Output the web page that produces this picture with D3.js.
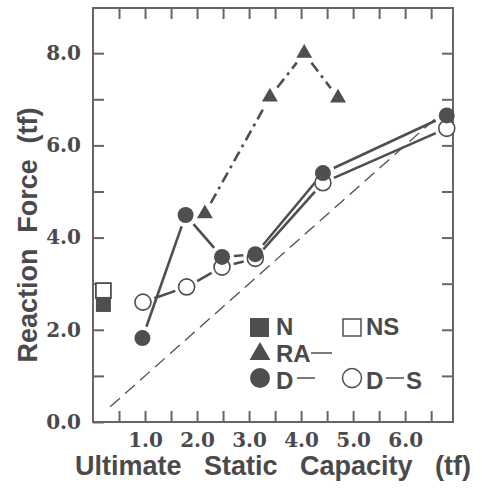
<!DOCTYPE html>
<html lang="en">
<head>
  <meta charset="UTF-8">
  <title>Reaction Force vs Ultimate Static Capacity</title>
  <script src="https://d3js.org/d3.v7.min.js"></script>
  <style>
    body { margin: 0; background: #fff; }
    svg { display: block; }
    .num { font-family: "DejaVu Serif", serif; font-weight: bold; font-size: 20px; fill: #4a4a4a; }
    .ttl { font-family: "Liberation Sans", Arial, sans-serif; font-weight: bold; fill: #4a4a4a; }
  </style>
</head>
<body>
  <div id="chart"></div>

  <script>
    // data
    const dX  = [0.95, 1.78, 2.48, 3.12, 4.42, 6.80];
    const dY  = [1.82, 4.49, 3.58, 3.64, 5.40, 6.65];
    const dsX = [0.96, 1.80, 2.48, 3.12, 4.42, 6.80];
    const dsY = [2.60, 2.93, 3.36, 3.55, 5.19, 6.37];
    const raX = [2.15, 3.40, 4.06, 4.71];
    const raY = [4.52, 7.05, 8.00, 7.03];
    const nPoint  = [0.2, 2.55];
    const nsPoint = [0.2, 2.85];
    const diagonal = [0.33, 6.6];

    const xTicks = [0.5, 1, 1.5, 2, 2.5, 3, 3.5, 4, 4.5, 5, 5.5, 6, 6.5];
    const yTicks = [0, 1, 2, 3, 4, 5, 6, 7, 8];

    const W = 482, H = 490;
    const ink = "#4f4f4f";

    const svg = d3.select("#chart").append("svg")
      .attr("width", W).attr("height", H);

    const x = d3.scaleLinear().domain([0, 6.92]).range([93, 453]);
    const y = d3.scaleLinear().domain([0, 8.98]).range([422, 8]);

    const halfFmt = v => (v % 1 === 0 ? v.toFixed(1) : "");
    const evenFmt = v => (v % 2 === 0 ? v.toFixed(1) : "");

    function styleAxis(g) {
      g.attr("font-size", null).attr("font-family", null);
      g.select(".domain").remove();
      g.selectAll(".tick line").attr("stroke", "#666").attr("stroke-width", 2);
      g.selectAll(".tick text").attr("class", "num").attr("fill", null);
    }

    svg.append("g").attr("transform", `translate(0,${y(0)})`)
      .call(d3.axisBottom(x).tickValues(xTicks).tickFormat(halfFmt).tickSize(-11).tickPadding(11))
      .call(styleAxis);
    svg.append("g").attr("transform", `translate(0,${y.range()[1]})`)
      .call(d3.axisTop(x).tickValues(xTicks).tickFormat("").tickSize(-11))
      .call(styleAxis);
    svg.append("g").attr("transform", `translate(${x(0)},0)`)
      .call(d3.axisLeft(y).tickValues(yTicks).tickFormat(evenFmt).tickSize(-11).tickPadding(12))
      .call(styleAxis);
    svg.append("g").attr("transform", `translate(${x.range()[1]},0)`)
      .call(d3.axisRight(y).tickValues(yTicks.slice(1)).tickFormat("").tickSize(-11))
      .call(styleAxis);

    svg.append("rect")
      .attr("x", x(0)).attr("y", y.range()[1])
      .attr("width", x.range()[1] - x(0)).attr("height", y(0) - y.range()[1])
      .attr("fill", "none").attr("stroke", "#666").attr("stroke-width", 2);

    // y = x reference
    svg.append("line")
      .attr("x1", x(diagonal[0])).attr("y1", y(diagonal[0]))
      .attr("x2", x(diagonal[1])).attr("y2", y(diagonal[1]))
      .attr("stroke", ink).attr("stroke-width", 1.3).attr("stroke-dasharray", "13,7");

    // segments trimmed so they stop short of the markers
    function segments(xs, ys, gap) {
      const out = [];
      for (let i = 0; i < xs.length - 1; i++) {
        const x1 = x(xs[i]), y1 = y(ys[i]), x2 = x(xs[i + 1]), y2 = y(ys[i + 1]);
        const len = Math.hypot(x2 - x1, y2 - y1);
        const ux = (x2 - x1) / len, uy = (y2 - y1) / len;
        out.push([x1 + ux * gap, y1 + uy * gap, x2 - ux * gap, y2 - uy * gap]);
      }
      return out;
    }

    function drawSegs(xs, ys, gap, dash) {
      svg.append("g").selectAll("line")
        .data(segments(xs, ys, gap))
        .join("line")
        .attr("x1", d => d[0]).attr("y1", d => d[1])
        .attr("x2", d => d[2]).attr("y2", d => d[3])
        .attr("stroke", ink).attr("stroke-width", 2.6)
        .attr("stroke-dasharray", dash);
    }

    drawSegs(dsX, dsY, 12, null);
    drawSegs(dX, dY, 12, null);
    drawSegs(raX, raY, 12, "11,5,3,5");

    // N / NS squares
    const sq = 15;
    svg.append("rect")
      .attr("x", x(nsPoint[0]) - sq / 2).attr("y", y(nsPoint[1]) - sq / 2)
      .attr("width", sq).attr("height", sq)
      .attr("fill", "#fff").attr("stroke", ink).attr("stroke-width", 1.8);
    svg.append("rect")
      .attr("x", x(nPoint[0]) - sq / 2).attr("y", y(nPoint[1]) - sq / 2)
      .attr("width", sq).attr("height", sq)
      .attr("fill", ink);

    // circles
    svg.append("g").selectAll("circle")
      .data(d3.zip(dsX, dsY))
      .join("circle")
      .attr("cx", d => x(d[0])).attr("cy", d => y(d[1])).attr("r", 8)
      .attr("fill", "#fff").attr("stroke", ink).attr("stroke-width", 1.6);
    svg.append("g").selectAll("circle")
      .data(d3.zip(dX, dY))
      .join("circle")
      .attr("cx", d => x(d[0])).attr("cy", d => y(d[1])).attr("r", 8)
      .attr("fill", ink);

    // triangles
    const tri = d3.symbol().type(d3.symbolTriangle).size(110);
    svg.append("g").selectAll("path")
      .data(d3.zip(raX, raY))
      .join("path")
      .attr("transform", d => `translate(${x(d[0])},${y(d[1])})`)
      .attr("d", tri)
      .attr("fill", ink);

    // legend (symbols, then all labels in one text element)
    const leg = svg.append("g");
    leg.append("rect").attr("x", 250).attr("y", 318).attr("width", 19).attr("height", 19).attr("fill", ink);
    leg.append("rect").attr("x", 343).attr("y", 319).attr("width", 18).attr("height", 17)
      .attr("fill", "#fff").attr("stroke", ink).attr("stroke-width", 1.5);
    leg.append("path").attr("transform", "translate(260,354)")
      .attr("d", d3.symbol().type(d3.symbolTriangle).size(190)).attr("fill", ink);
    leg.append("circle").attr("cx", 260).attr("cy", 378).attr("r", 10).attr("fill", ink);
    leg.append("circle").attr("cx", 352).attr("cy", 378).attr("r", 9.5)
      .attr("fill", "#fff").attr("stroke", ink).attr("stroke-width", 1.5);
    [[311, 332, 353], [297, 315, 378], [386, 404, 378]].forEach(d => {
      leg.append("line").attr("x1", d[0]).attr("x2", d[1]).attr("y1", d[2]).attr("y2", d[2])
        .attr("stroke", ink).attr("stroke-width", 1.5);
    });
    const legText = leg.append("text").attr("class", "ttl").style("font-size", "24px");
    [["N", 276, 335], ["NS", 366, 335], ["RA", 276, 362], ["D", 276, 389], ["D", 366, 389], ["S", 406, 389]]
      .forEach(d => legText.append("tspan").attr("x", d[1]).attr("y", d[2]).text(d[0]));

    // axis titles, words spread to span the given width
    function spreadTitle(words, cx, cy, width, rotate) {
      const t = svg.append("text").attr("class", "ttl").style("font-size", "27px")
        .attr("text-anchor", "middle")
        .attr("transform", `translate(${cx},${cy})` + (rotate ? " rotate(-90)" : ""))
        .text(words.join(" "));
      const natural = t.node().getComputedTextLength();
      const extra = (width - natural) / (words.length - 1);
      t.style("word-spacing", extra + "px");
    }
    spreadTitle(["Ultimate", "Static", "Capacity", "(tf)"], 273, 475, 396, false);
    spreadTitle(["Reaction", "Force", "(tf)"], 37, 235, 255, true);
  </script>
</body>
</html>
